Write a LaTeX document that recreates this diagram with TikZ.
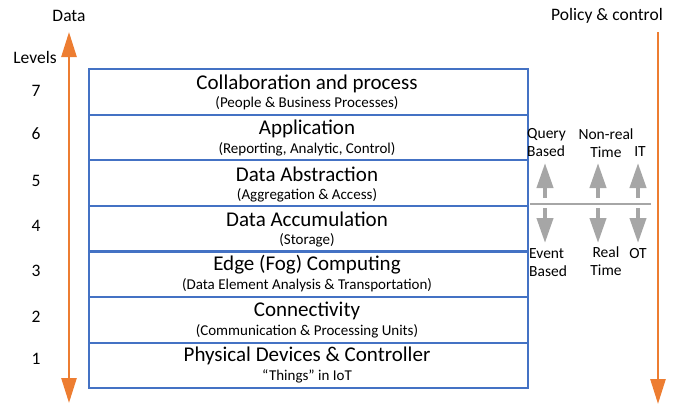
\documentclass[tikz,border=0pt]{standalone}
\usepackage{fontspec}
\setmainfont{Carlito}
\usetikzlibrary{arrows.meta}
\definecolor{lblue}{HTML}{4472C4}
\definecolor{lorange}{HTML}{ED7D31}
\definecolor{lgray}{HTML}{A6A6A6}
\begin{document}
\begin{tikzpicture}[x=1pt,y=-1pt,
  layer/.style={draw=lblue,line width=2.2pt,minimum width=439pt,minimum height=45.6pt,inner sep=0pt,anchor=north west},
  ttl/.style={font=\fontsize{21}{24}\selectfont,inner sep=0pt},
  sub/.style={font=\fontsize{15}{17}\selectfont,inner sep=0pt},
  lvl/.style={font=\fontsize{17.5}{20}\selectfont,inner sep=0pt},
  side/.style={font=\fontsize{15.5}{18}\selectfont,inner sep=0pt,align=center},
  oarrow/.style={draw=lorange,line width=2.6pt},
  garrow/.style={draw=lgray,line width=4pt,-{Triangle[width=16pt,length=25pt]}},
]
\useasboundingbox (0,0) rectangle (681,405);
% layers
\foreach \i/\y in {7/68,6/113.6,5/159.2,4/204.8,3/250.4,2/296,1/341.6}{
  \node[layer] (L\i) at (88,\y) {};
}
\node[ttl] (t7) at (307,84) {Collaboration and process};
\node[sub] (s7) at (307,103.5) {(People \& Business Processes)};
\node[ttl] (t6) at (307,129) {Application};
\node[sub] (s6) at (307,149.5) {(Reporting, Analytic, Control)};
\node[ttl] (t5) at (307,174) {Data Abstraction};
\node[sub] (s5) at (307,195) {(Aggregation \& Access)};
\node[ttl] (t4) at (307,219) {Data Accumulation};
\node[sub] (s4) at (307,240) {(Storage)};
\node[ttl] (t3) at (307,265) {Edge (Fog) Computing};
\node[sub] (s3) at (307,285.5) {(Data Element Analysis \& Transportation)};
\node[ttl] (t2) at (307,311) {Connectivity};
\node[sub] (s2) at (307,331) {(Communication \& Processing Units)};
\node[ttl] (t1) at (307,356) {Physical Devices \& Controller};
\node[sub] (s1) at (307,376.5) {“Things” in IoT};
% levels
\node[lvl] (lev) at (35,57) {Levels};
\foreach \i/\y in {7/91,6/134,5/181,4/226,3/271,2/317,1/359}{
  \node[lvl] (n\i) at (36,\y) {\i};
}
% side labels
\node[lvl] (data) at (69,16) {Data};
\node[lvl] (pol) at (607,16) {Policy \& control};
\coordinate (dtop) at (69,32);
\coordinate (dbot) at (69,403);
\draw[oarrow,{Triangle[width=15pt,length=25pt]}-{Triangle[width=15pt,length=25pt]}] (dtop) -- (dbot);
\coordinate (ptop) at (658,32);
\coordinate (pbot) at (658,404);
\draw[oarrow,-{Triangle[width=15pt,length=25pt]}] (ptop) -- (pbot);
% gray separator
\coordinate (sepl) at (530,204);
\coordinate (sepr) at (651,204);
\draw[lgray,line width=1.5pt] (sepl) -- (sepr);
\foreach \n/\x in {a/545,b/598,c/638}{
  \coordinate (u\n0) at (\x,198);
  \coordinate (u\n1) at (\x,163);
  \coordinate (d\n0) at (\x,208);
  \coordinate (d\n1) at (\x,243);
  \draw[garrow] (u\n0) -- (u\n1);
  \draw[garrow] (d\n0) -- (d\n1);
}
\node[side,align=left,anchor=west] (qb) at (527,143) {Query\\Based};
\node[side] (nrt) at (606,143) {Non-real\\Time};
\node[side] (it) at (640,152) {IT};
\node[side,align=left,anchor=west] (eb) at (529,263) {Event\\Based};
\node[side] (rt) at (606,261) {Real\\Time};
\node[side] (ot) at (638,254) {OT};
\end{tikzpicture}
\end{document}
